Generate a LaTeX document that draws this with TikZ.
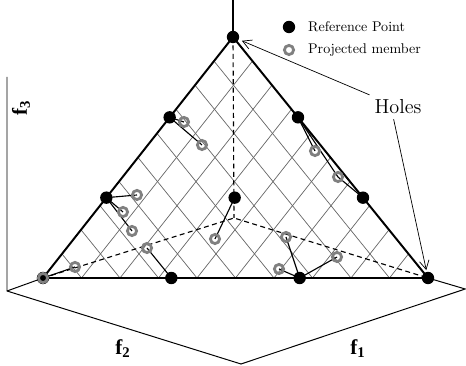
\documentclass[tikz,border=0pt]{standalone}
\usepackage{fontspec}
\newfontfamily\axisfont{Liberation Serif}
\usetikzlibrary{arrows.meta, calc, backgrounds}

\tikzset{
  refpt/.style={circle, fill=black, inner sep=0pt, minimum size=3.1mm},
  projpt/.style={circle, draw=black!50, line width=2pt, inner sep=0pt, minimum size=2.3mm},
  gridline/.style={black!60, line width=0.5pt},
  hidden/.style={dash pattern=on 3.5pt off 2.5pt, line width=0.8pt},
  edge/.style={line width=1.4pt},
  link/.style={line width=0.8pt},
  axislbl/.style={font=\axisfont\fontsize{15}{15}\selectfont\bfseries},
  pointer/.style={-{Straight Barb[length=2.2mm, width=2.4mm]}, line width=0.5pt},
}

\begin{document}
\begin{tikzpicture}
  \useasboundingbox (0,0) rectangle (11.65,9.15);
  \coordinate (A) at (1.075,2.2);
  \coordinate (B) at (10.7,2.2);
  \coordinate (C) at (5.825,8.225);
  \coordinate (O) at (5.85,3.7);
  \coordinate (f3up) at (5.825,9.2);
  \coordinate (f3top) at (0.175,7.225);
  \coordinate (orig) at (0.175,1.875);
  \coordinate (floorlow) at (6.025,0.05);
  \coordinate (floorright) at (11.63,1.925);

  % reference points
  \node[refpt] (pA) at (A) {};
  \node[refpt] (pB) at (B) {};
  \node[refpt] (pC) at (C) {};
  \node[refpt] (pAB1) at ($(A)!1/3!(B)$) {};
  \node[refpt] (pAB2) at ($(A)!2/3!(B)$) {};
  \node[refpt] (pAC1) at ($(A)!1/3!(C)$) {};
  \node[refpt] (pAC2) at ($(A)!2/3!(C)$) {};
  \node[refpt] (pBC1) at ($(B)!1/3!(C)$) {};
  \node[refpt] (pBC2) at ($(B)!2/3!(C)$) {};
  \node[refpt] (pM) at ($(A)!0.5!(B)!1/3!(C)$) {};

  % projected members
  \node[projpt] (q0) at (A) {};
  \node[projpt] (q1) at (4.6,6.1) {};
  \node[projpt] (q2) at (5.05,5.525) {};
  \node[projpt] (q3) at (7.875,5.375) {};
  \node[projpt] (q4) at (8.45,4.725) {};
  \node[projpt] (q5) at (3.425,4.275) {};
  \node[projpt] (q6) at (3.075,3.85) {};
  \node[projpt] (q7) at (3.3,3.375) {};
  \node[projpt] (q8) at (3.675,2.95) {};
  \node[projpt] (q9) at (1.875,2.475) {};
  \node[projpt] (q10) at (5.375,3.175) {};
  \node[projpt] (q11) at (7.15,3.225) {};
  \node[projpt] (q12) at (6.975,2.425) {};
  \node[projpt] (q13) at (8.425,2.725) {};

  \begin{scope}[on background layer]
    \foreach \k in {1,...,9} {
      \draw[gridline] ($(A)!\k/10!(B)$) -- ($(C)!\k/10!(B)$);
      \draw[gridline] ($(A)!\k/10!(B)$) -- ($(A)!\k/10!(C)$);
    }
    \draw[hidden] (pA.center) -- (O) -- (pB.center);
    \draw[hidden] (pC.center) -- (O);
    \draw[edge] (pA.center) -- (pB.center) -- (pC.center) -- cycle;
    \draw[line width=0.9pt] (pC.center) -- (f3up);
    \draw[line width=0.7pt] (f3top) -- (orig) -- (floorlow) -- (floorright) -- (pB.center);
    \draw[line width=0.7pt] (orig) -- (pA.center);
    \draw[link] (pAC2.center) -- (q1.center);
    \draw[link] (pAC2.center) -- (q2.center);
    \draw[link] (pBC2.center) -- (q3.center);
    \draw[link] (pBC2.center) -- (q4.center) -- (pBC1.center);
    \draw[link] (pAC1.center) -- (q5.center);
    \draw[link] (pAC1.center) -- (q6.center);
    \draw[link] (pAC1.center) -- (q7.center);
    \draw[link] (pAB1.center) -- (q8.center);
    \draw[link] (pA.center) -- (q9.center);
    \draw[link] (pM.center) -- (q10.center);
    \draw[link] (pAB2.center) -- (q11.center);
    \draw[link] (pAB2.center) -- (q12.center);
    \draw[link] (pAB2.center) -- (q13.center);
  \end{scope}

  % legend
  \node[refpt] (keyref) at (7.225,8.475) {};
  \node[anchor=base west] (keyreftxt) at (7.58,8.35) {Reference Point};
  \node[projpt] (keyproj) at (7.225,7.9) {};
  \node[anchor=base west] (keyprojtxt) at (7.58,7.8) {Projected member};

  \node[font=\Large] (holes) at (9.95,6.475) {Holes};
  \draw[pointer, shorten >=0.8mm] (holes.north west) -- (pC);
  \draw[pointer, shorten >=0.4mm] (holes.250) -- (pB);

  \node[axislbl] (f1lbl) at (8.95,0.43) {f\textsubscript{1}};
  \node[axislbl] (f2lbl) at (3.075,0.43) {f\textsubscript{2}};
  \node[axislbl, rotate=90] (f3lbl) at (0.525,6.45) {f\textsubscript{3}};
\end{tikzpicture}
\end{document}
